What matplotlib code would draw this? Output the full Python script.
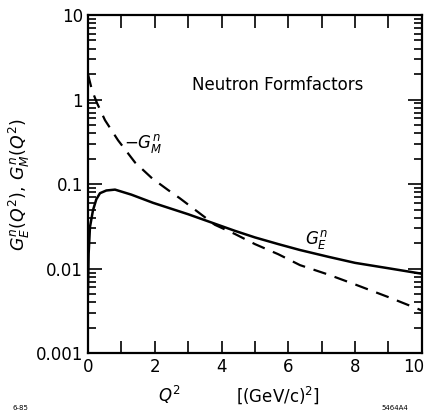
import matplotlib
matplotlib.use("Agg")
import matplotlib.pyplot as plt
import matplotlib.transforms as mtransforms
from matplotlib.ticker import LogLocator, FixedLocator, NullFormatter

# values
q2_m = [0.0, 0.12, 0.27, 0.51, 0.9, 1.41, 1.92, 2.4, 2.75, 3.14, 3.8, 4.4, 5.0, 5.7, 6.35, 7.2, 8.0, 9.0, 10.0]
gm_n = [2.0, 1.29, 0.91, 0.57, 0.33, 0.18, 0.117, 0.085, 0.068, 0.052, 0.033, 0.0257, 0.0195, 0.0148, 0.011, 0.0085, 0.0065, 0.0046, 0.0032]

q2_e = [0.0, 0.02, 0.06, 0.15, 0.25, 0.36, 0.55, 0.81, 1.3, 1.95, 2.5, 3.0, 3.89, 4.4, 5.0, 5.7, 6.35, 7.2, 8.0, 9.0, 10.0]
ge_n = [0.005, 0.015, 0.031, 0.049, 0.066, 0.078, 0.084, 0.086, 0.075, 0.060, 0.051, 0.044, 0.033, 0.028, 0.0234, 0.0195, 0.0166, 0.0138, 0.0117, 0.0101, 0.0087]

yticks = [0.001, 0.01, 0.1, 1, 10]
ytick_labels = ["0.001", "0.01", "0.1", "1", "10"]
xticks = [0, 2, 4, 6, 8, 10]

fig = plt.figure(figsize=(4.27, 4.16), dpi=100)
ax = fig.add_axes([0.206, 0.151, 0.782, 0.813])

ax.plot(q2_m, gm_n, color="black", lw=1.6, linestyle=(0, (6, 4)))
ax.plot(q2_e, ge_n, color="black", lw=1.8)

ax.set_yscale("log")
ax.set_xlim(0, 10)
ax.set_ylim(0.001, 10)

ax.set_yticks(yticks)
ax.set_yticklabels(ytick_labels)
ax.yaxis.set_minor_locator(LogLocator(base=10, subs=range(2, 10)))
ax.yaxis.set_minor_formatter(NullFormatter())
ax.set_xticks(xticks)
ax.set_xticklabels([str(t) for t in xticks])
ax.xaxis.set_minor_locator(FixedLocator([1, 3, 5, 7, 9]))

ax.tick_params(which="both", direction="in", top=True, right=True, labelsize=12, width=1.2)
ax.tick_params(axis="y", which="major", length=10)
ax.tick_params(axis="y", which="minor", length=6)
ax.tick_params(axis="x", which="both", length=9)
for s in ax.spines.values():
    s.set_linewidth(1.6)

# keep the last x label inside the figure
last = ax.get_xticklabels()[-1]
last.set_transform(last.get_transform() + mtransforms.ScaledTranslation(-6 / 72, 0, fig.dpi_scale_trans))

ax.set_ylabel(r"$G_E^n(Q^2),\,G_M^n(Q^2)$", fontsize=12.5, labelpad=3)
ax.text(0.245, -0.124, r"$Q^2$", transform=ax.transAxes, fontsize=12, ha="center", va="center")
ax.text(0.57, -0.124, r"[(GeV/c)$^2$]", transform=ax.transAxes, fontsize=12, ha="center", va="center")

ax.text(5.69, 1.48, "Neutron Formfactors", fontsize=12, ha="center", va="center")
ax.text(1.65, 0.30, r"$-G_M^n$", fontsize=12, ha="center", va="center")
ax.text(6.83, 0.022, r"$G_E^n$", fontsize=12, ha="center", va="center")

fig.text(0.047, 0.02, "6-85", fontsize=5, ha="center", va="center")
fig.text(0.925, 0.02, "5464A4", fontsize=5, ha="center", va="center")

fig.savefig("out.png", dpi=100)
